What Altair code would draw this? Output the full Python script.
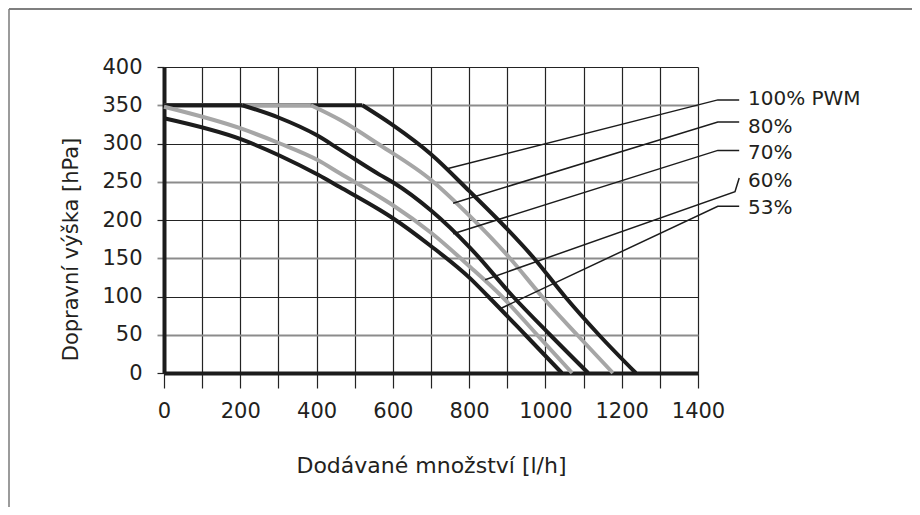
import altair as alt
import pandas as pd

# ---- data ----
series_names = ["100% PWM", "80%", "70%", "60%", "53%"]

flow_100 = [0, 520, 600, 700, 800, 900, 970, 1051, 1140, 1237]
head_100 = [350, 350, 324, 286, 238, 188, 150, 100, 50, 0]

flow_80 = [0, 385, 461, 566, 701, 802, 907, 991, 1083, 1177]
head_80 = [350, 350, 331, 298, 252, 205, 150, 100, 50, 0]

flow_70 = [0, 205, 300, 400, 461, 566, 601, 701, 802, 915, 1012, 1112]
head_70 = [350, 350, 334, 311, 292, 259, 249, 212, 164, 100, 50, 0]

flow_60 = [0, 205, 304, 404, 461, 566, 601, 701, 802, 886, 978, 1070]
head_60 = [348, 319, 300, 278, 261, 230, 219, 183, 139, 100, 50, 0]

flow_53 = [0, 205, 304, 404, 461, 566, 601, 697, 802, 850, 947, 1043]
head_53 = [333, 305, 284, 259, 243, 213, 202, 167, 124, 100, 50, 0]

series_flows = [flow_100, flow_80, flow_70, flow_60, flow_53]
series_heads = [head_100, head_80, head_70, head_60, head_53]
series_colors = ["#1c1c1c", "#a6a6a6", "#1c1c1c", "#a6a6a6", "#1c1c1c"]

# label positions (data units) and leader lines
label_flow = [1531, 1531, 1531, 1531, 1531]
label_head = [358, 322, 287, 251, 216]
leader_flows = [[742, 1452, 1508], [758, 1452, 1508], [758, 1452, 1508],
                [842, 1497, 1508], [881, 1452, 1508]]
leader_heads = [[267, 357, 357], [222, 328, 328], [182, 291, 291],
                [122, 237, 255], [84, 218, 218]]

x_ticks = list(range(0, 1401, 100))
y_ticks = list(range(0, 401, 50))

FONT = "DejaVu Sans"
INK = "#231f20"

grid_cond_color = {"condition": {"test": "datum.value % 100 === 0", "value": "#232323"},
                   "value": "#8c8c8c"}
grid_cond_width = {"condition": {"test": "datum.value % 100 === 0", "value": 1.2},
                   "value": 1.8}

x_axis = alt.Axis(values=x_ticks, labelExpr="datum.value % 200 === 0 ? datum.label : ''",
                  labelOverlap=False, labelFlush=False,
                  title="Dodávané množství [l/h]", grid=True, gridColor="#232323",
                  gridWidth=1.2, tickColor="#232323", tickWidth=1.2, tickSize=15,
                  domainColor="#1c1c1c", domainWidth=4, labelPadding=12,
                  labelFont=FONT, labelFontSize=21, labelColor=INK,
                  titleFont=FONT, titleFontSize=22, titleFontWeight="normal",
                  titleColor=INK, titlePadding=34, format="d")
y_axis = alt.Axis(values=y_ticks, title="Dopravní výška [hPa]", grid=True,
                  labelOverlap=False, labelFlush=False,
                  gridColor=grid_cond_color, gridWidth=grid_cond_width,
                  tickColor=grid_cond_color, tickWidth=grid_cond_width, tickSize=7,
                  domainColor="#1c1c1c", domainWidth=4, labelPadding=15,
                  labelFont=FONT, labelFontSize=21, labelColor=INK,
                  titleFont=FONT, titleFontSize=21, titleFontWeight="normal",
                  titleColor=INK, titleAngle=270, titleAlign="center",
                  titleBaseline="alphabetic", titleX=-87, titleY=182, format="d")

x_enc = alt.X("flow:Q", scale=alt.Scale(domain=[0, 1400], nice=False, zero=False), axis=x_axis)
y_enc = alt.Y("head:Q", scale=alt.Scale(domain=[0, 400], nice=False, zero=False), axis=y_axis)

layers = []

# frame (decoration)
frame_df = pd.DataFrame({"k": [0]})
layers.append(alt.Chart(frame_df).mark_rule(color="#555555", strokeWidth=1.5).encode(
    x=alt.value(-155), x2=alt.value(760), y=alt.value(-58)))
layers.append(alt.Chart(frame_df).mark_rule(color="#7a7a7a", strokeWidth=1.5).encode(
    x=alt.value(-155), y=alt.value(-58), y2=alt.value(450)))

for name, fl, hd, col in zip(series_names, series_flows, series_heads, series_colors):
    # split at the end of the flat (maximum head) part so the corner stays sharp
    top = max(hd)
    k = max(i for i, h in enumerate(hd) if h == top)
    rows = []
    if k > 0:
        for i in range(0, k + 1):
            rows.append({"flow": fl[i], "head": hd[i], "seg": 0, "i": i})
    for i in range(k, len(fl)):
        rows.append({"flow": fl[i], "head": hd[i], "seg": 1, "i": i})
    df = pd.DataFrame(rows)
    layers.append(alt.Chart(df).mark_line(color=col, strokeWidth=4, interpolate="monotone",
                                          strokeCap="butt", strokeJoin="round").encode(
        x=x_enc, y=y_enc, detail="seg:N", order="i:Q"))

lead_rows = []
for name, lf, lh in zip(series_names, leader_flows, leader_heads):
    for i, (f, h) in enumerate(zip(lf, lh)):
        lead_rows.append({"flow": f, "head": h, "series": name, "i": i})
lead_df = pd.DataFrame(lead_rows)
layers.append(alt.Chart(lead_df).mark_line(color="#1c1c1c", strokeWidth=1.5).encode(
    x=x_enc, y=y_enc, detail="series:N", order="i:Q"))

lab_df = pd.DataFrame({"flow": label_flow, "head": label_head, "series": series_names})
layers.append(alt.Chart(lab_df).mark_text(align="left", baseline="middle", font=FONT,
                                          fontSize=20, color=INK).encode(
    x=x_enc, y=y_enc, text="series:N"))

chart = alt.layer(*layers).properties(
    width=534, height=306,
    autosize=alt.AutoSizeParams(type="none"),
    padding={"left": 156, "top": 59, "right": 214, "bottom": 134},
    background="white",
).configure_view(stroke=None)

chart.save("out.html", embed_options={"renderer": "svg", "actions": False})
